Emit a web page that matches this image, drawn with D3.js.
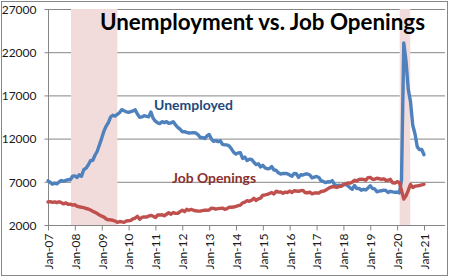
<!DOCTYPE html>
<html><head><meta charset="utf-8">
<script src="https://cdn.jsdelivr.net/npm/d3@7"></script>
<style>body{margin:0;background:#fff}svg{display:block}</style>
</head><body><svg id="c" width="449" height="277"></svg>
<script>
const startYear = 2007;
const unemployed = [
7116,6927,6731,6850,6766,6979,7149,7067,7170,7237,7240,7645,
7685,7497,7822,7637,8395,8575,8937,9438,9494,10074,10538,11286,
12058,12898,13426,13853,14499,14707,14601,14814,15009,15352,15219,15098,
15046,15113,15202,15325,14849,14474,14512,14648,14579,14516,15081,14348,
14013,13820,13737,13957,13855,13962,13763,13818,13948,13594,13302,13093,
12797,12813,12713,12646,12660,12692,12656,12471,12115,12124,12005,12298,
12471,11950,11689,11760,11654,11751,11335,11279,11270,11136,10787,10404,
10202,10349,10380,9702,9859,9460,9608,9599,9262,8990,9090,8717,
8903,8610,8504,8526,8771,8371,8335,8043,7899,7968,7953,7942,
7791,7635,7965,7930,7509,7817,7788,7904,7897,7791,7460,7544,
7616,7503,7133,7040,6906,7008,6984,7137,6703,6556,6604,6556,
6625,6737,6542,6305,6140,6575,6214,6243,6016,6131,6057,6285,
6545,6228,6186,5843,5920,5963,6037,5996,5772,5902,5826,5786,
5796,5717,7185,23078,20985,17697,16308,13542,12535,11049,10728,10736,
10130];
const jobOpenings = [
4661,4700,4623,4673,4588,4694,4592,4441,4554,4399,4421,4301,
4348,4167,4109,4055,4014,3907,3851,3732,3583,3463,3325,3159,
3022,2915,2710,2592,2602,2547,2451,2306,2401,2356,2306,2467,
2484,2533,2708,2805,3012,2655,2877,2946,2912,3034,3115,3008,
2866,3157,3150,3191,3067,3245,3424,3244,3447,3351,3349,3545,
3706,3547,3816,3705,3798,3708,3646,3606,3621,3661,3722,3713,
3735,3950,3927,3828,3888,3928,3957,3813,3888,4064,4050,4083,
4163,4245,4296,4567,4648,4822,4744,4873,5095,4836,5034,5114,
5455,5475,5539,5638,5753,5589,5912,5808,5819,5679,5808,5761,
5927,5754,5969,5932,5892,5979,5990,5740,5733,5793,5602,5704,
5724,5702,5875,5906,6004,6178,6334,6441,6425,6346,6436,6464,
6705,6747,6864,6841,6963,7178,7094,7278,7293,7283,7179,7479,
7509,7298,7291,7422,7354,7274,7349,7182,7184,7286,6887,6852,
7012,6904,6011,4996,5371,6000,6697,6352,6494,6530,6572,6652,
6700];
const yTicks = [2000,7000,12000,17000,22000,27000];
const xTickLabels = ["Jan-07","Jan-08","Jan-09","Jan-10","Jan-11","Jan-12","Jan-13","Jan-14","Jan-15","Jan-16","Jan-17","Jan-18","Jan-19","Jan-20","Jan-21"];
const recessions = [["2007-11-10","2009-08-01"],["2020-02-05","2020-06-28"]];
const seriesNames = ["Unemployed","Job Openings"];
const title = "Unemployment vs. Job Openings";

const svg = d3.select("#c");
const L = 48, R = 445, T = 9, B = 225;
const parseDay = d3.timeParse("%Y-%m-%d");
const parseTick = d3.timeParse("%b-%y");
const tickDates = xTickLabels.map(parseTick);
const x = d3.scaleTime().domain([tickDates[0], tickDates[tickDates.length-1]]).range([48, 424]);
const y = d3.scaleLinear().domain([2000, 27000]).range([B, T]);
const dateOf = i => new Date(startYear, i, 1);
const font = "Lato, 'Open Sans', sans-serif";
const grey = "#868686";

svg.append("rect").attr("x",0).attr("y",0).attr("width",449).attr("height",277).attr("fill","#fff");

// gridlines
svg.append("g").selectAll("line").data(yTicks.slice(1)).join("line")
  .attr("x1",L).attr("x2",R).attr("y1",d=>y(d)+0.5).attr("y2",d=>y(d)+0.5)
  .attr("stroke",grey).attr("stroke-width",1);

// recession bands
svg.append("g").selectAll("rect").data(recessions).join("rect")
  .attr("x",d=>x(parseDay(d[0]))).attr("width",d=>x(parseDay(d[1]))-x(parseDay(d[0])))
  .attr("y",T).attr("height",B-T).attr("fill","#F2DCDB");

// axes
const yAxis = svg.append("g").attr("transform",`translate(${L+0.5},0)`)
  .call(d3.axisLeft(y).tickValues(yTicks).tickFormat(d3.format("d")).tickSize(4).tickPadding(8));
const xAxis = svg.append("g").attr("transform",`translate(0,${B+0.5})`)
  .call(d3.axisBottom(x).tickValues(tickDates).tickFormat((d,i)=>xTickLabels[i]).tickSize(5));
[yAxis,xAxis].forEach(a=>{a.select(".domain").remove();a.selectAll("line").attr("stroke",grey);
  a.selectAll("text").attr("font-family",font).attr("font-size",12).attr("fill","#1a1a1a");});
xAxis.selectAll("text").attr("transform","rotate(-90)").attr("text-anchor","end")
  .attr("x",-8).attr("y",0).attr("dy","0.36em");
yAxis.selectAll("text").attr("dy","0.36em");
svg.append("line").attr("x1",L+0.5).attr("x2",L+0.5).attr("y1",T).attr("y2",B+0.5).attr("stroke",grey);
svg.append("line").attr("x1",L).attr("x2",R).attr("y1",B+0.5).attr("y2",B+0.5).attr("stroke",grey);

// lines
const line = d3.line().x((d,i)=>x(dateOf(i))).y(d=>y(d));
[[unemployed,"#4F81BD"],[jobOpenings,"#C0504D"]].forEach(([data,col])=>{
  svg.append("path").datum(data).attr("d",line).attr("fill","none").attr("stroke",col)
    .attr("stroke-width",3.4).attr("stroke-linejoin","round").attr("stroke-linecap","round");
});

// title
svg.append("text").attr("x",100).attr("y",30).text(title)
  .attr("font-family",font).attr("font-weight","bold").attr("font-size",22)
  .attr("textLength",325).attr("lengthAdjust","spacingAndGlyphs").attr("fill","#000");

// series labels
svg.append("text").attr("x",154).attr("y",110).text(seriesNames[0])
  .attr("font-family",font).attr("font-weight","bold").attr("font-size",13)
  .attr("textLength",79).attr("lengthAdjust","spacingAndGlyphs").attr("fill","#1F497D");
svg.append("text").attr("x",172).attr("y",183).text(seriesNames[1])
  .attr("font-family",font).attr("font-weight","bold").attr("font-size",13)
  .attr("textLength",84).attr("lengthAdjust","spacingAndGlyphs").attr("fill","#8B2F2C");

// outer border
svg.append("rect").attr("x",1.5).attr("y",1.5).attr("width",446).attr("height",274)
  .attr("fill","none").attr("stroke",grey);
</script></body></html>
